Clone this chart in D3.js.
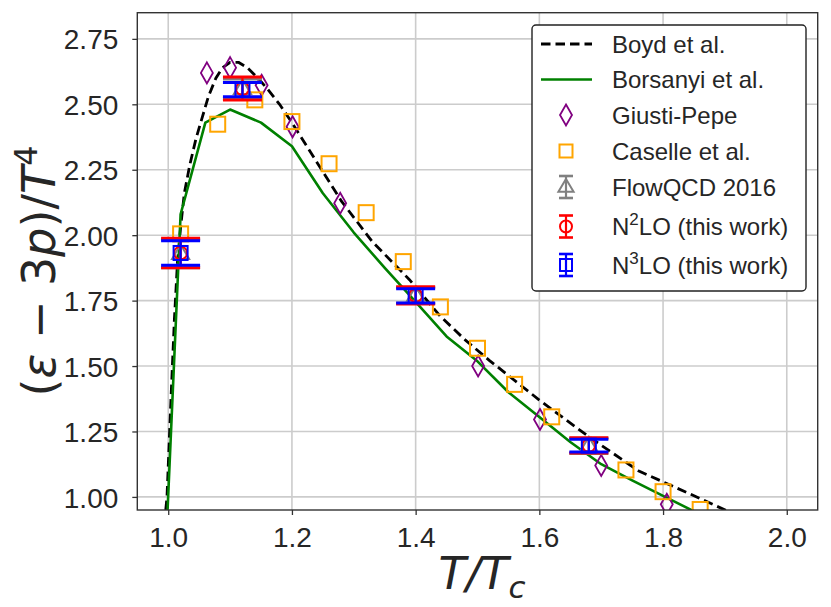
<!DOCTYPE html>
<html lang="en">
<head>
<meta charset="UTF-8">
<title>Trace anomaly</title>
<script src="https://d3js.org/d3.v7.min.js"></script>
<style>
    body {margin: 0; background: #fff;}
    text {font-family: "Liberation Sans", Arial, sans-serif; fill: #262626;}
    .math {font-family: "DejaVu Sans", sans-serif;}
</style>
</head>
<body>
<script>
    const width = 831;
    const height = 607;
    const margin = {top: 12.7, right: 13.3, bottom: 97, left: 137.3};

    // data: [T/Tc, (e-3p)/T^4]
    const boyd = [
        [0.996, 0.95], [0.998, 1.00], [1.004, 1.35], [1.010, 1.68], [1.015, 1.90],
        [1.020, 2.03], [1.026, 2.16], [1.035, 2.27], [1.045, 2.37], [1.055, 2.45],
        [1.065, 2.53], [1.077, 2.60], [1.088, 2.64], [1.100, 2.66], [1.114, 2.66],
        [1.128, 2.64], [1.145, 2.60], [1.160, 2.56], [1.180, 2.50], [1.200, 2.43],
        [1.240, 2.28], [1.280, 2.13], [1.330, 1.975], [1.390, 1.83], [1.440, 1.69],
        [1.480, 1.60], [1.520, 1.52], [1.600, 1.37], [1.680, 1.23], [1.760, 1.10],
        [1.840, 1.015], [1.905, 0.945]
    ];
    const borsanyi = [
        [0.998, 0.90], [1.02, 2.08], [1.06, 2.43], [1.10, 2.48], [1.15, 2.43],
        [1.20, 2.34], [1.25, 2.16], [1.30, 2.01], [1.35, 1.875], [1.40, 1.745],
        [1.45, 1.613], [1.50, 1.518], [1.55, 1.40], [1.60, 1.305], [1.65, 1.21],
        [1.70, 1.125], [1.75, 1.063], [1.80, 1.004], [1.85, 0.945], [1.90, 0.89]
    ];
    const giustiPepe = [
        [1.0625, 2.62], [1.100, 2.64], [1.151, 2.573], [1.201, 2.414], [1.278, 2.122],
        [1.501, 1.500], [1.601, 1.296], [1.700, 1.120], [1.806, 0.972]
    ];
    const caselle = [
        [1.02, 2.005], [1.08, 2.424], [1.14, 2.517], [1.20, 2.434], [1.26, 2.273],
        [1.32, 2.086], [1.38, 1.899], [1.44, 1.726], [1.50, 1.568], [1.56, 1.430],
        [1.62, 1.306], [1.74, 1.103], [1.80, 1.020], [1.86, 0.952]
    ];
    const latticeT  = [1.02, 1.12, 1.40, 1.68];
    const flowqcdV  = [1.930, 2.560, 1.770, 1.195];
    const flowqcdE  = [0.054, 0.037, 0.030, 0.029];
    const n2loV     = [1.932, 2.560, 1.770, 1.197];
    const n2loE     = [0.056, 0.044, 0.033, 0.029];
    const n3loV     = [1.932, 2.556, 1.768, 1.196];
    const n3loE     = [0.047, 0.027, 0.027, 0.024];

    const xTicks = [1.0, 1.2, 1.4, 1.6, 1.8, 2.0];
    const yTicks = [1.00, 1.25, 1.50, 1.75, 2.00, 2.25, 2.50, 2.75];

    const svg = d3.select("body").append("svg")
            .attr("width", width).attr("height", height);

    const x = d3.scaleLinear().domain([0.95, 2.05]).range([margin.left, width - margin.right]);
    const y = d3.scaleLinear().domain([0.95, 2.85]).range([height - margin.bottom, margin.top]);

    svg.append("clipPath").attr("id", "plot-clip")
        .append("rect")
        .attr("x", margin.left).attr("y", margin.top)
        .attr("width", width - margin.left - margin.right)
        .attr("height", height - margin.top - margin.bottom);

    // grid
    svg.append("g").selectAll("line").data(xTicks).join("line")
        .attr("x1", d => x(d)).attr("x2", d => x(d))
        .attr("y1", margin.top).attr("y2", height - margin.bottom)
        .style("stroke", "#cccccc").style("stroke-width", 1.6);
    svg.append("g").selectAll("line").data(yTicks).join("line")
        .attr("y1", d => y(d)).attr("y2", d => y(d))
        .attr("x1", margin.left).attr("x2", width - margin.right)
        .style("stroke", "#cccccc").style("stroke-width", 1.6);

    const plot = svg.append("g").attr("clip-path", "url(#plot-clip)");
    const line = d3.line().x(d => x(d[0])).y(d => y(d[1]));

    plot.append("path").datum(boyd)
        .attr("d", line)
        .style("fill", "none").style("stroke", "black")
        .style("stroke-width", 2.8).style("stroke-dasharray", "9.5,5");

    plot.append("path").datum(borsanyi)
        .attr("d", line)
        .style("fill", "none").style("stroke", "green")
        .style("stroke-width", 2.6).style("stroke-linejoin", "round");

    const diamond = (cx, cy) => `M${cx},${cy - 10.5}L${cx + 6},${cy}L${cx},${cy + 10.5}L${cx - 6},${cy}Z`;
    const triangle = (cx, cy, s) => `M${cx},${cy - s}L${cx + s * 0.95},${cy + s * 0.6}L${cx - s * 0.95},${cy + s * 0.6}Z`;

    plot.append("g").selectAll("path").data(giustiPepe).join("path")
        .attr("d", d => diamond(x(d[0]), y(d[1])))
        .style("fill", "none").style("stroke", "purple").style("stroke-width", 1.8);

    plot.append("g").selectAll("rect").data(caselle).join("rect")
        .attr("x", d => x(d[0]) - 7.5).attr("y", d => y(d[1]) - 7.5)
        .attr("width", 15).attr("height", 15)
        .style("fill", "none").style("stroke", "orange").style("stroke-width", 2);

    function errorbars(values, errors, color, marker) {
        const g = plot.append("g");
        const pts = latticeT.map((t, i) => ({t: t, v: values[i], e: errors[i]}));
        g.selectAll("line.bar").data(pts).join("line").attr("class", "bar")
            .attr("x1", d => x(d.t)).attr("x2", d => x(d.t))
            .attr("y1", d => y(d.v + d.e)).attr("y2", d => y(d.v - d.e))
            .style("stroke", color).style("stroke-width", 2.2);
        [1, -1].forEach(sgn => {
            g.selectAll("line.cap" + sgn).data(pts).join("line")
                .attr("x1", d => x(d.t) - 19.5).attr("x2", d => x(d.t) + 19.5)
                .attr("y1", d => y(d.v + sgn * d.e)).attr("y2", d => y(d.v + sgn * d.e))
                .style("stroke", color).style("stroke-width", 3);
        });
        pts.forEach(d => marker(g, x(d.t), y(d.v)));
    }

    const triMark = (g, cx, cy, s) => g.append("path").attr("d", triangle(cx, cy, s || 9))
        .style("fill", "none").style("stroke", "grey").style("stroke-width", 2);
    const circMark = (g, cx, cy, r) => g.append("circle").attr("cx", cx).attr("cy", cy).attr("r", r || 6.5)
        .style("fill", "none").style("stroke", "red").style("stroke-width", 2);
    const sqMark = (g, cx, cy, s) => g.append("rect")
        .attr("x", cx - (s || 14) / 2).attr("y", cy - (s || 14) / 2)
        .attr("width", s || 14).attr("height", s || 14)
        .style("fill", "none").style("stroke", "blue").style("stroke-width", 2);

    errorbars(flowqcdV, flowqcdE, "grey", triMark);
    errorbars(n2loV, n2loE, "red", circMark);
    errorbars(n3loV, n3loE, "blue", sqMark);

    // axes
    const xAxis = svg.append("g")
        .attr("transform", `translate(0,${height - margin.bottom})`)
        .call(d3.axisBottom(x).tickValues(xTicks).tickFormat(d3.format(".1f"))
            .tickSize(5).tickPadding(12));
    const yAxis = svg.append("g")
        .attr("transform", `translate(${margin.left},0)`)
        .call(d3.axisLeft(y).tickValues(yTicks).tickFormat(d3.format(".2f"))
            .tickSize(5).tickPadding(14));
    [xAxis, yAxis].forEach(a => {
        a.select(".domain").remove();
        a.selectAll(".tick line").style("stroke", "#333").style("stroke-width", 1.3);
        a.selectAll(".tick text").style("font-size", "28px").style("fill", "#262626")
            .style("font-family", "'Liberation Sans', Arial, sans-serif");
    });
    yAxis.selectAll(".tick text").attr("dy", "0.36em");

    svg.append("rect")
        .attr("x", margin.left).attr("y", margin.top)
        .attr("width", width - margin.left - margin.right)
        .attr("height", height - margin.top - margin.bottom)
        .style("fill", "none").style("stroke", "#333").style("stroke-width", 1.4);

    // axis labels
    const xl = svg.append("text").attr("class", "math")
        .attr("x", 482).attr("y", 589)
        .attr("text-anchor", "middle")
        .style("font-size", "45px").style("font-style", "italic");
    xl.append("tspan").text("T/T");
    xl.append("tspan").text("c").attr("dy", 9).style("font-size", "31px");

    const yl = svg.append("text").attr("class", "math")
        .attr("transform", "translate(55,271) rotate(-90)")
        .attr("text-anchor", "middle")
        .style("font-size", "46px");
    yl.append("tspan").text("(");
    yl.append("tspan").text("ε").style("font-style", "italic");
    yl.append("tspan").text(" − 3");
    yl.append("tspan").text("p").style("font-style", "italic");
    yl.append("tspan").text(")/");
    yl.append("tspan").text("T").style("font-style", "italic");
    yl.append("tspan").text("4").attr("dy", -18).style("font-size", "32px");

    // legend
    const legend = svg.append("g");
    legend.append("rect")
        .attr("x", 532).attr("y", 25).attr("width", 274).attr("height", 266).attr("rx", 4)
        .style("fill", "white").style("stroke", "#222").style("stroke-width", 1.4);

    const legendNames = ["Boyd et al.", "Borsanyi et al.", "Giusti-Pepe", "Caselle et al.",
        "FlowQCD 2016", "N|2|LO (this work)", "N|3|LO (this work)"];
    const rowY = [44, 79.5, 115, 151, 187, 226.5, 265];
    const hx = 566;

    legendNames.forEach((name, i) => {
        const t = legend.append("text").attr("x", 612).attr("y", rowY[i] + 8.5)
            .style("font-size", "24px");
        const parts = name.split("|");
        if (parts.length === 1) {
            t.text(name);
        } else {
            t.append("tspan").text(parts[0]);
            t.append("tspan").text(parts[1]).attr("dy", -10).style("font-size", "17px");
            t.append("tspan").text(parts[2]).attr("dy", 10);
        }
    });

    legend.append("line").attr("x1", 541).attr("x2", 592).attr("y1", rowY[0]).attr("y2", rowY[0])
        .style("stroke", "black").style("stroke-width", 2.8).style("stroke-dasharray", "9.5,5");
    legend.append("line").attr("x1", 541).attr("x2", 592).attr("y1", rowY[1]).attr("y2", rowY[1])
        .style("stroke", "green").style("stroke-width", 2.6);
    legend.append("path").attr("d", diamond(hx, rowY[2]))
        .style("fill", "none").style("stroke", "purple").style("stroke-width", 1.8);
    legend.append("rect").attr("x", hx - 6.5).attr("y", rowY[3] - 6.5).attr("width", 13).attr("height", 13)
        .style("fill", "none").style("stroke", "orange").style("stroke-width", 2);

    [["grey", triMark, 4], ["red", circMark, 5], ["blue", sqMark, 6]].forEach(([color, mk, i]) => {
        const cy = rowY[i];
        legend.append("line").attr("x1", hx).attr("x2", hx).attr("y1", cy - 11).attr("y2", cy + 11)
            .style("stroke", color).style("stroke-width", 2.2);
        [-11, 11].forEach(o => legend.append("line")
            .attr("x1", hx - 7).attr("x2", hx + 7).attr("y1", cy + o).attr("y2", cy + o)
            .style("stroke", color).style("stroke-width", 2.6));
        mk(legend, hx, cy, i === 4 ? 8 : (i === 5 ? 6 : 12));
    });
</script>
</body>
</html>
